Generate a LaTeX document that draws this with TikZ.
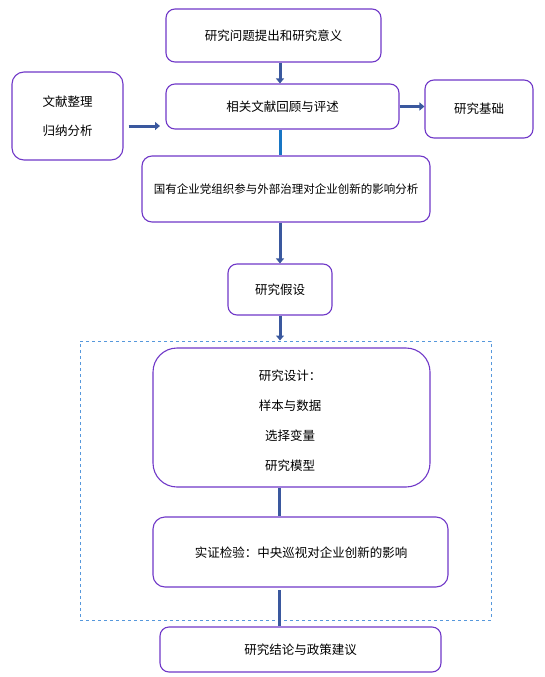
\documentclass[tikz,border=0pt]{standalone}
\usepackage{fontspec}
\setmainfont{Noto Sans CJK SC}
\usetikzlibrary{arrows.meta}
\definecolor{boxpurple}{RGB}{112,56,200}
\definecolor{arrblue}{RGB}{58,88,158}
\definecolor{linkblue}{RGB}{24,118,196}
\definecolor{dashblue}{RGB}{86,152,220}
\tikzset{
  box/.style={draw=boxpurple, line width=1.1pt, rounded corners=9pt, fill=white, inner sep=0pt, font=\fontsize{12.5}{14}\selectfont, align=center},
  boxtext/.style={font=\fontsize{12.5}{14}\selectfont, align=center},
  arr/.style={draw=arrblue, line width=3pt, -{Triangle[length=5pt,width=8pt]}},
  conn/.style={draw=arrblue, line width=3pt},
}
\begin{document}
\begin{tikzpicture}[x=1pt,y=-1pt]
\useasboundingbox (0,0) rectangle (544,677);
% group
\node[draw=dashblue, dashed, line width=1pt, minimum width=411pt, minimum height=279pt, inner sep=0pt] (grp) at (285.5,480.5) {};
% boxes
\node[box, minimum width=215pt, minimum height=53pt] (b1) at (273.5,35.5) {研究问题提出和研究意义};
\node[box, minimum width=233pt, minimum height=45pt] (b2) at (282.5,106.5) {相关文献回顾与评述};
\node[box, minimum width=111pt, minimum height=88pt, rounded corners=12pt] (lit) at (67.5,116) {文献整理\\[15pt]归纳分析};
\node[box, minimum width=108pt, minimum height=58pt] (base) at (479,109) {研究基础};
\node[box, minimum width=288pt, minimum height=66pt, rounded corners=10pt, font=\fontsize{11.5}{13}\selectfont] (b3) at (286,189) {国有企业党组织参与外部治理对企业创新的影响分析};
\node[box, minimum width=104pt, minimum height=51pt] (b4) at (280,289.5) {研究假设};
\node[box, minimum width=277pt, minimum height=139pt, rounded corners=24pt] (b5) at (291.5,417.5) {};
\node[boxtext] (b5t) at (290,421) {研究设计：\\[16pt]样本与数据\\[16pt]选择变量\\[16pt]研究模型};
\node[box, minimum width=295pt, minimum height=70pt, rounded corners=12pt] (b6) at (300.5,552) {};
\node[boxtext] (b6t) at (301,553) {实证检验：中央巡视对企业创新的影响};
\node[box, minimum width=281pt, minimum height=45pt] (b7) at (300.5,649.5) {研究结论与政策建议};
% connectors
\draw[arr] (280,0 |- b1.south) -- (280,0 |- b2.north);
\draw[arr] (lit.east) ++(5pt,-10pt) coordinate (la) -- (160,0 |- la);
\draw[arr] (b2.east) -- (base.west |- b2.east);
\draw[draw=linkblue, line width=3pt] (280,0 |- b2.south) -- (280,0 |- b3.north);
\draw[arr] (280,0 |- b3.south) -- (b4.north);
\draw[arr] (b4.south) -- (b4.south |- grp.north);
\draw[conn] (279,0 |- b5.south) -- (279,0 |- b6.north);
\draw[conn] (279,590) coordinate (c6) -- (c6 |- b7.north);
\end{tikzpicture}
\end{document}
